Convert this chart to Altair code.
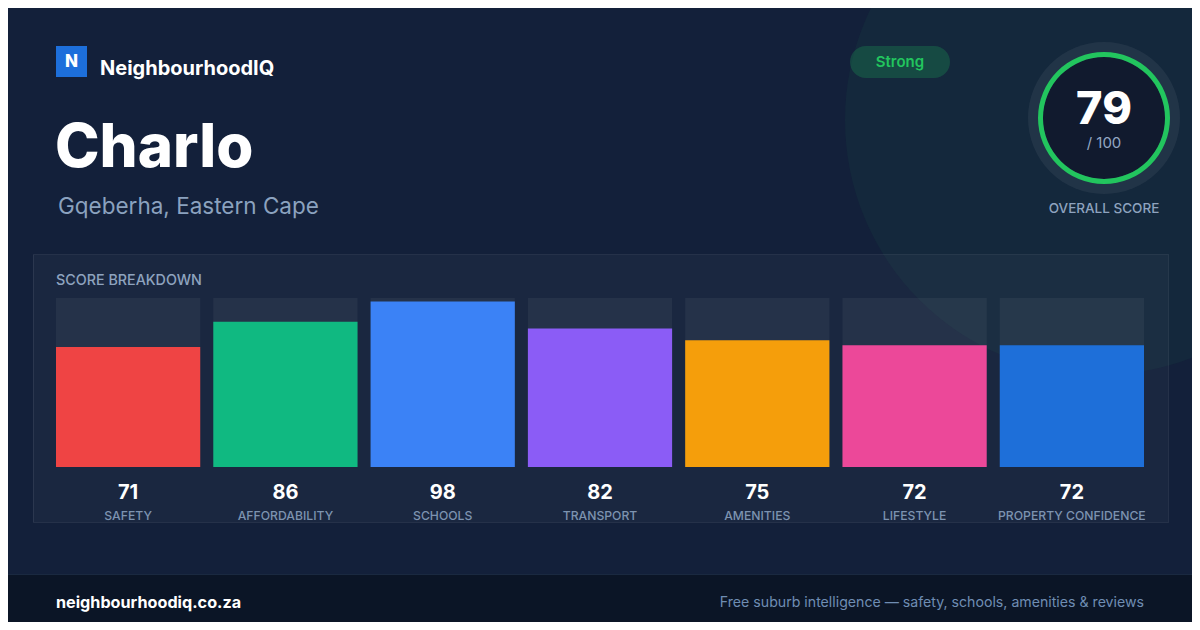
import altair as alt
import pandas as pd

# ---- data ----
categories = ["SAFETY", "AFFORDABILITY", "SCHOOLS", "TRANSPORT", "AMENITIES", "LIFESTYLE", "PROPERTY CONFIDENCE"]
scores = [71, 86, 98, 82, 75, 72, 72]
bar_colors = ["#ef4444", "#10b981", "#3b82f6", "#8b5cf6", "#f59e0b", "#ec4899", "#1e6fd9"]
overall_score = 79
suburb = "Charlo"
region = "Gqeberha, Eastern Cape"
rating = "Strong"

df = pd.DataFrame({"cat": categories, "score": scores, "color": bar_colors})
one = pd.DataFrame({"k": [0]})

W, H = 1184, 614
OX, OY = 8, 8  # page margin offset: reference pixel -> view pixel

def px(v):
    return v - OX

def py(v):
    return v - OY

FONT = "Inter"
BG = "#13203a"

base1 = alt.Chart(one)

layers = []
# background
layers.append(base1.mark_rect(color=BG).encode(x=alt.value(0), x2=alt.value(W), y=alt.value(0), y2=alt.value(H)))
# big decorative circle
layers.append(base1.mark_arc(radius=255, theta=0, theta2=6.2832, color="#22c55e", opacity=0.05).encode(
    x=alt.value(px(1100)), y=alt.value(py(120))))
# footer
layers.append(base1.mark_rect(color="#0b1526").encode(x=alt.value(0), x2=alt.value(W), y=alt.value(py(574)), y2=alt.value(H)))
layers.append(base1.mark_rule(color="#1a2940", strokeWidth=1).encode(x=alt.value(0), x2=alt.value(W), y=alt.value(py(574.5))))

# logo
layers.append(base1.mark_rect(color="#1d6fdb").encode(x=alt.value(px(56)), x2=alt.value(px(87)), y=alt.value(py(46)), y2=alt.value(py(77))))
layers.append(base1.mark_text(text="N", font=FONT, fontSize=17, fontWeight=800, color="white", align="center", baseline="middle").encode(
    x=alt.value(px(71.5)), y=alt.value(py(61.5))))
layers.append(base1.mark_text(text="NeighbourhoodIQ", font=FONT, fontSize=20, fontWeight=700, color="white", align="left", baseline="alphabetic").encode(
    x=alt.value(px(100)), y=alt.value(py(75))))
# title
layers.append(base1.mark_text(text=suburb, font=FONT, fontSize=60, fontWeight=800, color="white", align="left", baseline="alphabetic").encode(
    x=alt.value(px(55)), y=alt.value(py(167))))
layers.append(base1.mark_text(text=region, font=FONT, fontSize=22.5, fontWeight=400, color="#8ba2bf", align="left", baseline="alphabetic").encode(
    x=alt.value(px(58)), y=alt.value(py(214))))
# pill
layers.append(base1.mark_rect(color="#22c55e", opacity=0.22, cornerRadius=16).encode(
    x=alt.value(px(850)), x2=alt.value(px(950)), y=alt.value(py(46)), y2=alt.value(py(78))))
layers.append(base1.mark_text(text=rating, font=FONT, fontSize=15, fontWeight=600, color="#22c55e", align="center", baseline="middle").encode(
    x=alt.value(px(900)), y=alt.value(py(62))))
# gauge
gx, gy = px(1104), py(118)
layers.append(base1.mark_arc(radius=76, theta=0, theta2=6.2832, color="#ffffff", opacity=0.06).encode(x=alt.value(gx), y=alt.value(gy)))
layers.append(base1.mark_arc(radius=61, theta=0, theta2=6.2832, color="#111a2e").encode(x=alt.value(gx), y=alt.value(gy)))
layers.append(base1.mark_arc(radius=66, radius2=61, theta=0, theta2=6.2832, color="#22c55e").encode(x=alt.value(gx), y=alt.value(gy)))
layers.append(base1.mark_text(text=str(overall_score), font=FONT, fontSize=45, fontWeight=800, color="white", align="center", baseline="alphabetic").encode(
    x=alt.value(gx), y=alt.value(py(124))))
layers.append(base1.mark_text(text="/ 100", font=FONT, fontSize=15, fontWeight=400, color="#94a8c4", align="center", baseline="alphabetic").encode(
    x=alt.value(gx), y=alt.value(py(148))))
layers.append(base1.mark_text(text="OVERALL SCORE", font=FONT, fontSize=13.5, fontWeight=500, color="#8ea3bf", align="center", baseline="alphabetic").encode(
    x=alt.value(gx), y=alt.value(py(213))))
# panel
layers.append(base1.mark_rect(color="#ffffff", opacity=0.03).encode(
    x=alt.value(px(33)), x2=alt.value(px(1168)), y=alt.value(py(255)), y2=alt.value(py(522))))
layers.append(base1.mark_rect(fill=None, stroke="#ffffff", strokeOpacity=0.08, strokeWidth=1).encode(
    x=alt.value(px(33.5)), x2=alt.value(px(1168.5)), y=alt.value(py(254.5)), y2=alt.value(py(522.5))))
layers.append(base1.mark_text(text="SCORE BREAKDOWN", font=FONT, fontSize=14.3, fontWeight=500, color="#8ea3bf", align="left", baseline="alphabetic").encode(
    x=alt.value(px(56)), y=alt.value(py(285))))
# footer text
layers.append(base1.mark_text(text="neighbourhoodiq.co.za", font=FONT, fontSize=16.2, fontWeight=700, color="white", align="left", baseline="alphabetic").encode(
    x=alt.value(px(56)), y=alt.value(py(608))))
layers.append(base1.mark_text(text="Free suburb intelligence \u2014 safety, schools, amenities & reviews", font=FONT, fontSize=14.15, fontWeight=400,
                              color="#6f8db3", align="right", baseline="alphabetic").encode(
    x=alt.value(px(1144)), y=alt.value(py(607))))

# ---- bars through scales ----
xscale = alt.Scale(type="band", domain=categories, range=[px(56), px(1144)], paddingInner=0.083, paddingOuter=0)
yscale = alt.Scale(domain=[0, 100], range=[py(467), py(298)])
bars = alt.Chart(df)
X = alt.X("cat:N", scale=xscale, axis=None, sort=categories)
layers.append(bars.mark_bar(color="#ffffff", opacity=0.05).encode(
    x=X, y=alt.Y("full:Q", scale=yscale, axis=None), y2=alt.Y2("zero:Q")).transform_calculate(full="100", zero="0"))
layers.append(bars.mark_bar().encode(
    x=X, y=alt.Y("score:Q", scale=yscale, axis=None), y2=alt.Y2("zero:Q"),
    color=alt.Color("color:N", scale=None, legend=None)).transform_calculate(zero="0"))
layers.append(bars.mark_text(font=FONT, fontSize=20, fontWeight=700, color="white", baseline="alphabetic").encode(
    x=X, y=alt.value(py(499)), text="score:Q"))
layers.append(bars.mark_text(font=FONT, fontSize=12.2, fontWeight=500, color="#7d93b0", baseline="alphabetic").encode(
    x=X, y=alt.value(py(520)), text="cat:N"))

chart = alt.layer(*layers).properties(
    width=W, height=H, padding=0, autosize=alt.AutoSizeParams(type="none"), background=BG
).configure_view(stroke=None)

chart.save("out.html", embed_options={"renderer": "svg", "actions": False})
